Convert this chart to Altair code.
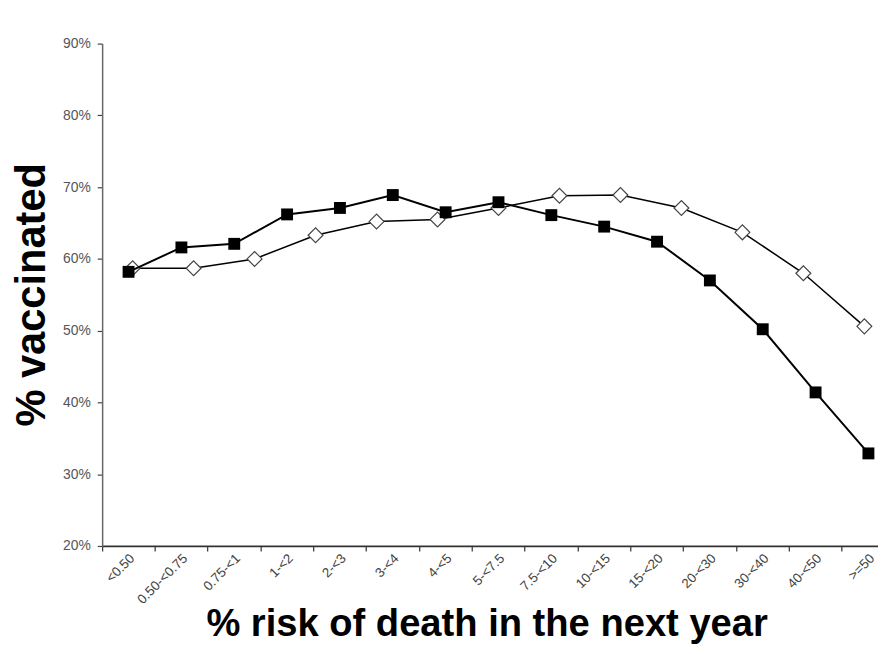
import altair as alt
import pandas as pd

# Categories of the x axis (% risk of death in the next year)
risk_labels = ["<0.50", "0.50-<0.75", "0.75-<1", "1-<2", "2-<3", "3-<4", "4-<5",
               "5-<7.5", "7.5-<10", "10-<15", "15-<20", "20-<30", "30-<40",
               "40-<50", ">=50"]
# Filled-square series (% vaccinated), one value per risk category
square_values = [58.2, 61.6, 62.1, 66.2, 67.1, 68.9, 66.5, 67.9, 66.1, 64.5,
                 62.4, 57.0, 50.2, 41.4, 32.9]
# Open-diamond series: 13 groups spread over the same axis width
diamond_groups = [str(i) for i in range(1, 14)]
diamond_values = [58.7, 58.7, 60.0, 63.3, 65.2, 65.5, 67.1, 68.8, 68.9, 67.1,
                  63.7, 58.0, 50.6]
y_ticks = [20, 30, 40, 50, 60, 70, 80, 90]

sq = pd.DataFrame({"risk": risk_labels, "pct": square_values})
dm = pd.DataFrame({"grp": diamond_groups, "pct": diamond_values})

FONT = "Liberation Sans"
RANGE = [0, 800]

y_enc = alt.Y(
    "pct:Q",
    scale=alt.Scale(domain=[20, 90], nice=False, zero=False),
    axis=alt.Axis(
        values=y_ticks,
        labelExpr="datum.value + '%'",
        grid=False,
        title="% vaccinated",
        titleFont=FONT,
        titleFontSize=42,
        titleFontWeight="bold",
        titleColor="black",
        titleAngle=270,
        titleAlign="center",
        titleBaseline="alphabetic",
        titleX=-58,
        titleY=253,
        labelFont=FONT,
        labelFontSize=14,
        labelColor="#555",
        labelPadding=7,
        tickSize=5,
        tickColor="#444",
        domainColor="#666",
        domainWidth=1.5,
        tickWidth=1.2,
    ),
)

x_sq = alt.X(
    "risk:N",
    sort=risk_labels,
    scale=alt.Scale(type="band", domain=risk_labels, range=RANGE,
                    paddingInner=0, paddingOuter=0),
    axis=alt.Axis(
        bandPosition=0,
        labelAngle=315,
        labelAlign="right",
        labelBaseline="middle",
        labelFont=FONT,
        labelFontSize=13.5,
        labelColor="#444",
        labelPadding=5,
        labelOffset=4,
        labelOverlap=False,
        tickSize=5,
        tickColor="#333",
        tickWidth=1.2,
        domainColor="#333",
        domainWidth=1.8,
        grid=False,
        title="% risk of death in the next year",
        titleFont=FONT,
        titleFontSize=38.5,
        titleFontWeight="bold",
        titleColor="black",
        titleAlign="center",
        titleBaseline="alphabetic",
        titleX=388,
        titleY=90,
    ),
)

x_dm = alt.X(
    "grp:N",
    sort=diamond_groups,
    scale=alt.Scale(type="band", domain=diamond_groups, range=RANGE,
                    paddingInner=0, paddingOuter=0),
    axis=None,
)

dm_line = alt.Chart(dm).mark_line(color="black", strokeWidth=1.5).encode(x=x_dm, y=y_enc)
dm_pts = alt.Chart(dm).mark_point(
    shape="diamond", size=225, filled=True, fill="white",
    stroke="#444", strokeWidth=1.2, opacity=1
).encode(x=x_dm, y=y_enc)

sq_line = alt.Chart(sq).mark_line(color="black", strokeWidth=2).encode(x=x_sq, y=y_enc)
sq_pts = alt.Chart(sq).mark_point(
    shape="square", size=144, filled=True, color="black", opacity=1
).encode(x=x_sq, y=y_enc)

dm_layer = alt.layer(dm_line, dm_pts)
sq_layer = alt.layer(sq_line, sq_pts)

chart = (
    alt.layer(dm_layer, sq_layer)
    .resolve_scale(x="independent")
    .properties(
        width=783,
        height=507,
        autosize=alt.AutoSizeParams(type="none"),
        padding={"left": 95, "top": 33, "right": 0, "bottom": 98},
        background="white",
    )
    .configure_view(stroke=None)
)

chart.save("out.html", embed_options={"renderer": "svg", "actions": False})
